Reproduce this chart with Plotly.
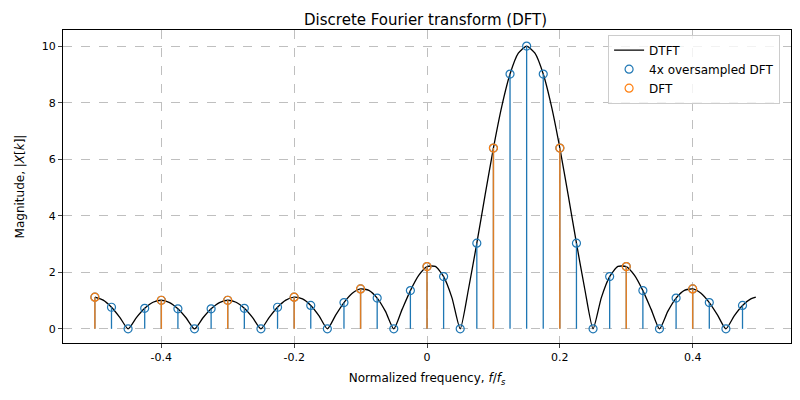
import plotly.graph_objects as go

dtft_mag = [1.122,1.017,0.765,0.408,0,0.398,0.727,0.942,1.0125,0.930,0.709,0.383,0,0.383,0.709,0.930,1.0125,0.942,0.727,0.398,0,0.408,0.765,1.017,1.122,1.059,0.829,0.460,0,0.487,0.930,1.258,1.414,1.361,1.089,0.618,0,0.689,1.353,1.891,2.203,2.207,1.848,1.106,0,1.410,3.029,4.736,6.393,7.860,9.012,9.748,10,
            9.748,9.012,7.860,6.393,4.736,3.029,1.410,0,1.106,1.848,2.207,2.203,1.891,1.353,0.689,0,0.618,1.089,1.361,1.414,1.258,0.930,0.487,0,0.460,0.829,1.059,1.122]
dtft_f = [-0.5 + 0.0125*i for i in range(len(dtft_mag))]
dtft_f[-1] = 0.495

over_f = [k/40 for k in range(-20, 20)]
over_mag = [1.122,0.765,0,0.727,1.0125,0.709,0,0.709,1.0125,0.727,0,0.765,1.122,0.829,0,0.930,1.414,1.089,0,1.353,2.203,1.848,0,3.029,6.393,9.012,10,9.012,6.393,3.029,0,1.848,2.203,1.353,0,1.089,1.414,0.930,0,0.829]
dft_f = [k/10 for k in range(-5, 5)]
dft_mag = [1.122,1.0125,1.0125,1.122,1.414,2.203,6.393,6.393,2.203,1.414]

BLUE, ORANGE = "#1f77b4", "#ff7f0e"

def stems(xs, ys):
    sx, sy = [], []
    for x, y in zip(xs, ys):
        sx += [x, x, None]; sy += [0, y, None]
    return sx, sy

fig = go.Figure()
fig.add_trace(go.Scatter(x=dtft_f, y=dtft_mag, mode="lines", line=dict(color="black", width=1.3, shape="spline", smoothing=0.6), name="DTFT"))
sx, sy = stems(over_f, over_mag)
fig.add_trace(go.Scatter(x=sx, y=sy, mode="lines", line=dict(color=BLUE, width=1.3), showlegend=False, hoverinfo="skip"))
fig.add_trace(go.Scatter(x=over_f, y=over_mag, mode="markers", marker=dict(symbol="circle-open", color=BLUE, size=8, line=dict(width=1.2)), name="4x oversampled DFT"))
sx, sy = stems(dft_f, dft_mag)
fig.add_trace(go.Scatter(x=sx, y=sy, mode="lines", line=dict(color=ORANGE, width=1.5), opacity=0.85, showlegend=False, hoverinfo="skip"))
fig.add_trace(go.Scatter(x=dft_f, y=dft_mag, mode="markers", marker=dict(symbol="circle-open", color=ORANGE, size=8, line=dict(width=1.2)), name="DFT"))

ax = dict(showline=True, linecolor="black", mirror=True, ticks="outside", ticklen=4, zeroline=False,
          showgrid=True, gridcolor="#bfbfbf", griddash="dash", tickfont=dict(size=11, color="black"))
fig.update_layout(
    width=800, height=400, plot_bgcolor="white", paper_bgcolor="white",
    font=dict(family="DejaVu Sans", color="black"),
    margin=dict(l=55, r=17, t=22, b=65),
    title=dict(text="Discrete Fourier transform (DFT)", x=0.522, xanchor="center", xref="container",
               y=0.97, yref="container", yanchor="middle", font=dict(size=15)),
    xaxis=dict(ax, range=[-0.548, 0.548], tickvals=[-0.4,-0.2,0,0.2,0.4], ticktext=["-0.4","-0.2","0","0.2","0.4"],
               title=dict(text="Normalized frequency, <i>f</i>/<i>f<sub>s</sub></i>", font=dict(size=12), standoff=10)),
    yaxis=dict(ax, range=[-0.5, 10.57], tickvals=[0,2,4,6,8,10],
               title=dict(text="Magnitude, |<i>X</i>[<i>k</i>]|", font=dict(size=12), standoff=14)),
    legend=dict(x=0.985, y=0.985, xanchor="right", yanchor="top", bordercolor="#cccccc", borderwidth=1, bgcolor="rgba(255,255,255,0.8)", font=dict(size=12)),
)
fig.write_html("out.html")
